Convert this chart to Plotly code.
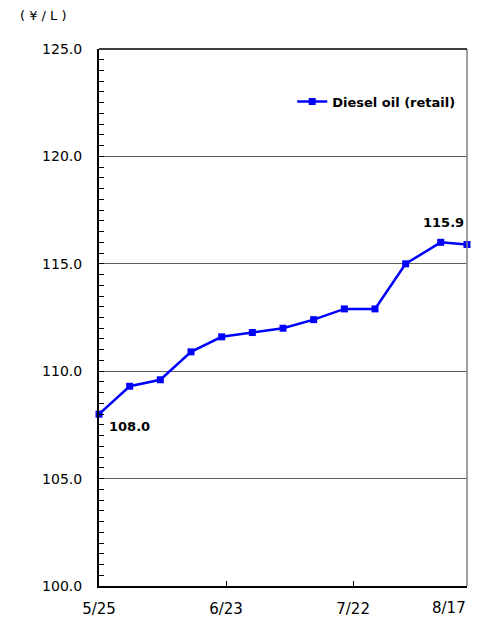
import plotly.graph_objects as go

# weekly retail diesel price (yen per litre)
dates = ["2020-05-25", "2020-06-01", "2020-06-08", "2020-06-15", "2020-06-22",
         "2020-06-29", "2020-07-06", "2020-07-13", "2020-07-20", "2020-07-27",
         "2020-08-03", "2020-08-11", "2020-08-17"]
prices = [108.0, 109.3, 109.6, 110.9, 111.6, 111.8, 112.0, 112.4, 112.9, 112.9,
          115.0, 116.0, 115.9]
tick_dates = ["2020-05-25", "2020-06-23", "2020-07-22", "2020-08-17"]
tick_labels = ["5/25", "6/23", "7/22", "8/17"]
series_name = "Diesel oil (retail)"
unit_label = "( ¥ / L )"

FONT = "DejaVu Sans"
BLUE = "#0000FF"

fig = go.Figure()
fig.add_trace(go.Scatter(
    x=dates, y=prices, name=series_name, mode="lines+markers",
    line=dict(color=BLUE, width=2.5),
    marker=dict(symbol="square", size=7, color=BLUE),
    cliponaxis=False,
))

# data labels on first and last points
fig.add_annotation(x=dates[0], y=prices[0], text="<b>%.1f</b>" % prices[0],
                   showarrow=False, xshift=30, yshift=-12,
                   font=dict(family=FONT, size=13, color="black"))
fig.add_annotation(x=dates[-1], y=prices[-1], text="<b>%.1f</b>" % prices[-1],
                   showarrow=False, xshift=-24, yshift=22,
                   font=dict(family=FONT, size=13, color="black"))

# last date label sits flush with the right end of the axis
fig.add_annotation(x=tick_dates[-1], y=0, yref="paper", text=tick_labels[-1],
                   xanchor="right", yanchor="middle", yshift=-22, xshift=1,
                   showarrow=False, font=dict(family=FONT, size=15, color="black"))

# unit label
fig.add_annotation(xref="paper", yref="paper", x=-0.22, y=1.063,
                   xanchor="left", yanchor="middle", showarrow=False,
                   text=unit_label, font=dict(family=FONT, size=13, color="black"))

# grey right border of the plot area
fig.add_shape(type="line", xref="x domain", yref="y domain", x0=1, x1=1, y0=0, y1=1,
              line=dict(color="#808080", width=1.5))
# black top border
fig.add_shape(type="line", xref="x domain", yref="y domain", x0=0, x1=1, y0=1, y1=1,
              line=dict(color="black", width=1.5))

# page body has an 8px margin, so the figure is 8px smaller than the window
fig.update_layout(
    width=472, height=610,
    margin=dict(l=91, r=13, t=41, b=32, autoexpand=False),
    paper_bgcolor="white", plot_bgcolor="white",
    font=dict(family=FONT, color="black"),
    showlegend=True,
    legend=dict(x=0.525, y=0.93, xanchor="left", yanchor="top",
                bgcolor="rgba(0,0,0,0)", font=dict(size=13, family=FONT, weight="bold"),
                itemwidth=30),
)
fig.update_xaxes(
    type="date", range=["2020-05-25", "2020-08-17"], automargin=False,
    tickvals=tick_dates, ticktext=tick_labels[:-1] + [""],
    ticks="inside", ticklen=5, tickcolor="black", tickwidth=1,
    showgrid=False, zeroline=False,
    showline=True, linecolor="black", linewidth=2, mirror=False,
    tickfont=dict(size=15), ticklabelstandoff=8,
)
fig.update_yaxes(
    range=[100, 125], dtick=5, tickformat=".1f", automargin=False,
    ticks="inside", ticklen=5, tickcolor="black",
    minor=dict(dtick=0.5, ticks="inside", ticklen=5, tickcolor="black", showgrid=False),
    showgrid=True, gridcolor="#606060", gridwidth=1, zeroline=False,
    showline=True, linecolor="black", linewidth=2,
    tickfont=dict(size=14), ticklabelstandoff=12,
)

fig.write_html("out.html")
